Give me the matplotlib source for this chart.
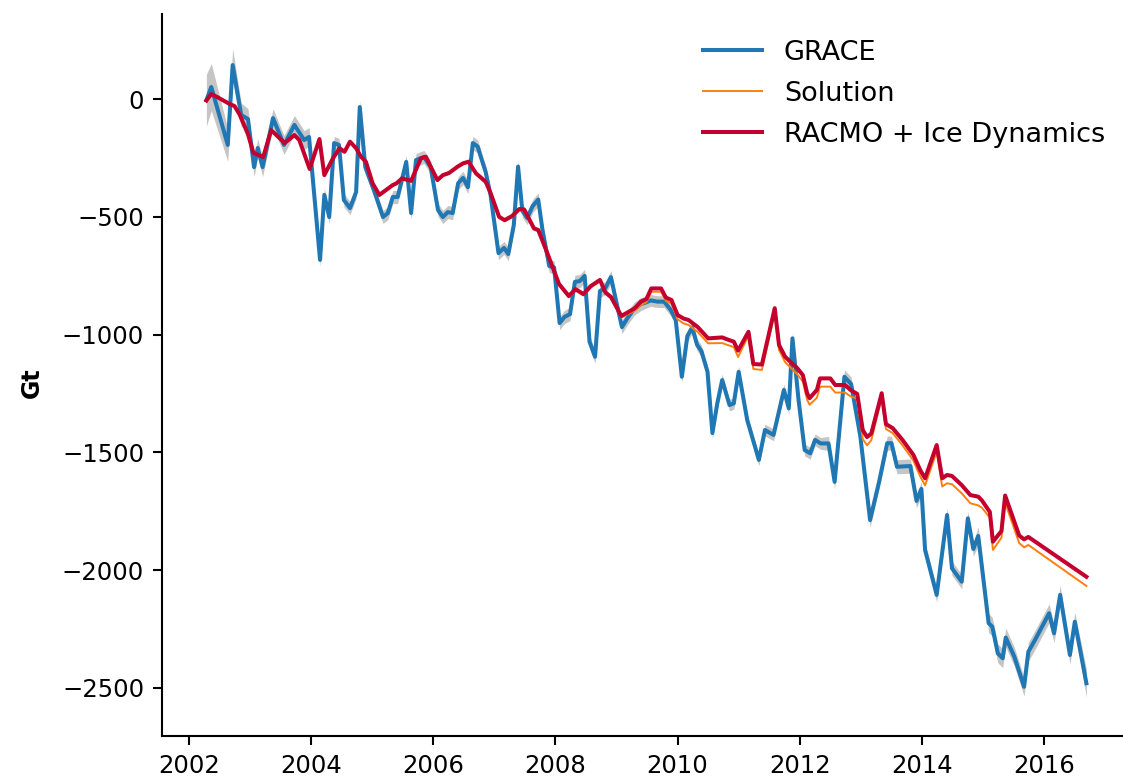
import numpy as np
from matplotlib import pyplot as plt

# GRACE monthly mass anomaly (Gt)
grace_t = [2002.29, 2002.37, 2002.64, 2002.72, 2002.86, 2002.97, 2003.07, 2003.13, 2003.21, 2003.38,
           2003.56, 2003.73, 2003.89, 2003.97, 2004.15, 2004.22, 2004.30, 2004.38, 2004.46, 2004.54,
           2004.64, 2004.74, 2004.80, 2004.89, 2005.03, 2005.18, 2005.26, 2005.34, 2005.42, 2005.56,
           2005.64, 2005.72, 2005.85, 2005.96, 2006.08, 2006.16, 2006.24, 2006.32, 2006.41, 2006.49,
           2006.57, 2006.65, 2006.73, 2006.78, 2006.86, 2006.94, 2007.07, 2007.16, 2007.23, 2007.32,
           2007.39, 2007.46, 2007.54, 2007.63, 2007.72, 2007.79, 2007.90, 2007.98, 2008.07, 2008.15,
           2008.24, 2008.32, 2008.40, 2008.48, 2008.56, 2008.65, 2008.73, 2008.82, 2008.91, 2008.99,
           2009.09, 2009.18, 2009.29, 2009.40, 2009.48, 2009.56, 2009.67, 2009.78, 2009.89, 2009.97,
           2010.07, 2010.16, 2010.24, 2010.32, 2010.39, 2010.49, 2010.57, 2010.65, 2010.73, 2010.85,
           2010.92, 2011.00, 2011.14, 2011.33, 2011.43, 2011.57, 2011.74, 2011.82, 2011.88, 2011.98,
           2012.08, 2012.17, 2012.25, 2012.34, 2012.47, 2012.57, 2012.73, 2012.84, 2012.99, 2013.15,
           2013.30, 2013.43, 2013.50, 2013.59, 2013.81, 2013.91, 2013.99, 2014.05, 2014.24, 2014.41,
           2014.49, 2014.65, 2014.75, 2014.84, 2014.92, 2015.09, 2015.15, 2015.24, 2015.32, 2015.37,
           2015.51, 2015.67, 2015.74, 2015.85, 2016.08, 2016.16, 2016.26, 2016.42, 2016.50, 2016.69]
grace = [-5, 51, -195, 144, -68, -85, -289, -208, -289, -81,
         -195, -110, -174, -161, -683, -407, -501, -187, -195, -429,
         -463, -395, -34, -289, -386, -501, -484, -416, -416, -267,
         -484, -259, -246, -289, -471, -501, -480, -484, -357, -335,
         -374, -187, -202, -245, -310, -408, -654, -632, -658, -535,
         -287, -475, -505, -454, -427, -556, -709, -715, -951, -925,
         -913, -776, -773, -751, -1031, -1094, -815, -802, -756, -853,
         -968, -930, -891, -870, -864, -855, -860, -860, -896, -938,
         -1179, -1006, -970, -1044, -1070, -1158, -1418, -1292, -1193, -1299,
         -1292, -1158, -1363, -1532, -1405, -1426, -1235, -1313, -1016, -1278,
         -1490, -1504, -1447, -1462, -1462, -1625, -1179, -1210, -1431, -1787,
         -1622, -1461, -1461, -1561, -1558, -1706, -1655, -1914, -2105, -1766,
         -1992, -2049, -1780, -1910, -1855, -2225, -2240, -2353, -2374, -2286,
         -2367, -2495, -2346, -2296, -2183, -2268, -2105, -2360, -2219, -2480]
grace_err = ([110, 100, 70, 70, 50, 45] + [40] * 8 + [28] * 60 + [25] * 30
             + [30] * 20 + [40] * 15 + [60])

# RACMO + ice dynamics and the fitted solution share the same epochs
model_t = [2002.29, 2002.37, 2002.47, 2002.67, 2002.75, 2002.83, 2002.97, 2003.06, 2003.22, 2003.35,
           2003.57, 2003.73, 2003.81, 2003.98, 2004.14, 2004.22, 2004.36, 2004.47, 2004.55, 2004.64,
           2004.74, 2004.82, 2004.90, 2005.01, 2005.12, 2005.23, 2005.34, 2005.40, 2005.49, 2005.64,
           2005.80, 2005.88, 2006.07, 2006.16, 2006.26, 2006.40, 2006.49, 2006.58, 2006.70, 2006.86,
           2006.94, 2007.08, 2007.17, 2007.29, 2007.41, 2007.49, 2007.65, 2007.72, 2007.87, 2008.06,
           2008.22, 2008.33, 2008.46, 2008.58, 2008.73, 2008.82, 2008.91, 2009.08, 2009.18, 2009.30,
           2009.40, 2009.49, 2009.57, 2009.73, 2009.81, 2009.90, 2010.00, 2010.10, 2010.18, 2010.33,
           2010.50, 2010.73, 2010.84, 2010.92, 2010.99, 2011.16, 2011.24, 2011.38, 2011.59, 2011.66,
           2011.76, 2011.86, 2011.96, 2012.05, 2012.12, 2012.16, 2012.28, 2012.33, 2012.50, 2012.58,
           2012.74, 2012.83, 2012.94, 2013.03, 2013.10, 2013.17, 2013.34, 2013.41, 2013.52, 2013.68,
           2013.86, 2013.97, 2014.05, 2014.24, 2014.33, 2014.41, 2014.49, 2014.65, 2014.79, 2014.92,
           2014.98, 2015.11, 2015.16, 2015.30, 2015.36, 2015.59, 2015.67, 2015.74, 2016.69]
racmo = [-6, 21, 8, -21, -30, -64, -149, -229, -246, -132,
         -187, -153, -174, -297, -170, -323, -252, -209, -224, -181,
         -209, -245, -266, -358, -407, -386, -365, -358, -337, -347,
         -252, -245, -344, -323, -314, -287, -273, -266, -315, -351,
         -399, -500, -514, -497, -467, -469, -549, -556, -655, -785,
         -836, -807, -828, -794, -768, -821, -840, -921, -906, -888,
         -860, -849, -804, -804, -843, -853, -917, -932, -938, -968,
         -1016, -1012, -1023, -1030, -1068, -988, -1125, -1127, -888, -1044,
         -1094, -1119, -1143, -1172, -1249, -1270, -1235, -1186, -1186, -1214,
         -1214, -1235, -1252, -1405, -1435, -1420, -1249, -1380, -1397, -1447,
         -1511, -1575, -1610, -1469, -1610, -1596, -1600, -1639, -1681, -1688,
         -1704, -1753, -1879, -1834, -1683, -1853, -1869, -1859, -2028]
solution = [-6, 21, 8, -21, -30, -64, -149, -229, -246, -132,
            -187, -153, -174, -298, -171, -324, -254, -211, -226, -184,
            -212, -248, -269, -362, -411, -390, -369, -362, -341, -351,
            -256, -249, -348, -327, -318, -291, -277, -270, -319, -356,
            -404, -505, -519, -502, -472, -474, -554, -561, -661, -791,
            -842, -813, -834, -800, -774, -827, -846, -928, -914, -899,
            -874, -863, -818, -818, -857, -867, -935, -953, -959, -989,
            -1037, -1036, -1046, -1053, -1095, -1004, -1146, -1150, -909, -1065,
            -1117, -1143, -1169, -1200, -1277, -1298, -1268, -1221, -1221, -1246,
            -1246, -1262, -1272, -1443, -1470, -1448, -1270, -1401, -1418, -1470,
            -1535, -1602, -1640, -1497, -1645, -1631, -1635, -1674, -1716, -1725,
            -1735, -1777, -1914, -1862, -1713, -1885, -1903, -1893, -2067]

ytick_vals = [0, -500, -1000, -1500, -2000, -2500]
xtick_vals = [2002, 2004, 2006, 2008, 2010, 2012, 2014, 2016]

grace_t = np.array(grace_t)
grace = np.array(grace, dtype=float)
grace_err = np.array(grace_err, dtype=float)

fig = plt.figure(figsize=(11.23, 7.81), dpi=100)
ax = fig.add_axes([0.1446, 0.0576, 0.862, 0.9245])

ax.fill_between(grace_t, grace - grace_err, grace + grace_err, color='gray', alpha=0.45, lw=0)
ax.plot(grace_t, grace, color='#1f77b4', lw=2.9, label='GRACE')
ax.plot(model_t, solution, color='#ff7f0e', lw=1.4, label='Solution')
ax.plot(model_t, racmo, color='#c4002f', lw=2.9, label='RACMO + Ice Dynamics')

ax.set_xlim(2001.57, 2017.41)
ax.set_ylim(-2704, 361)
ax.set_xticks(xtick_vals)
ax.set_yticks(ytick_vals)
ax.tick_params(labelsize=17.5, length=6.6, width=1.5, pad=6.6)
ax.set_ylabel('Gt', fontsize=17, fontweight='bold')
ax.yaxis.set_label_coords(-0.122, 0.49)

for side in ['top', 'right']:
    ax.spines[side].set_visible(False)
for side in ['left', 'bottom']:
    ax.spines[side].set_linewidth(1.5)

ax.legend(loc='upper right', bbox_to_anchor=(1116 / 1123, 1 - 29 / 781),
          bbox_transform=fig.transFigure, borderaxespad=0, frameon=False,
          fontsize=19.5, handlelength=2.2, labelspacing=0.55)

fig.savefig('out.png', dpi=100)
